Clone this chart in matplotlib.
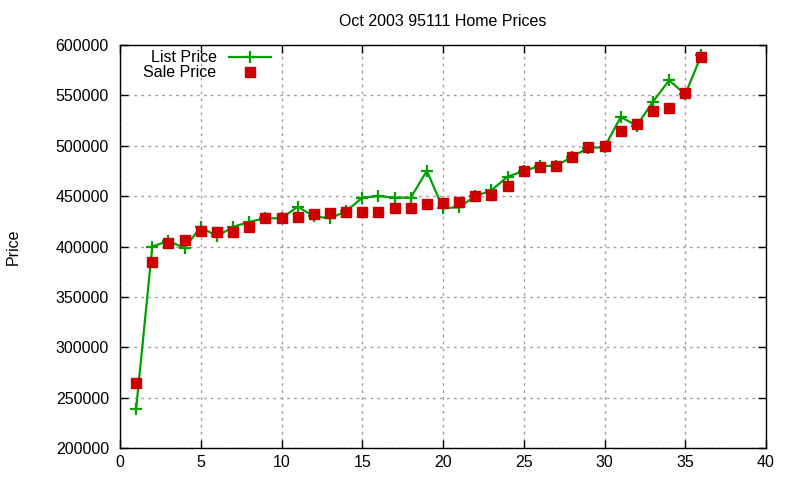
import matplotlib
matplotlib.use("Agg")
import matplotlib.pyplot as plt

plt.rcParams['font.family'] = ['Liberation Sans', 'DejaVu Sans']

months = list(range(1, 37))
list_price = [239000, 400000, 405500, 398500, 419500, 410000, 419500, 424500, 428000, 428000,
              439500, 430000, 428000, 435000, 448500, 450000, 448500, 448500, 475000, 438000,
              439000, 450000, 455800, 469300, 475000, 480000, 480000, 489000, 498000, 498500,
              528500, 520000, 543700, 565000, 551000, 590000]
sale_price = [264800, 385000, 403800, 406500, 415400, 414400, 414700, 419700, 428300, 428300,
              429300, 432000, 433000, 434500, 434500, 434500, 438500, 438500, 442500, 443500,
              444500, 450500, 450800, 460400, 475300, 479200, 480200, 489000, 499000, 500000,
              515000, 522000, 534800, 537800, 552700, 588400]
xticks = list(range(0, 41, 5))
yticks = list(range(200000, 600001, 50000))

fig = plt.figure(figsize=(8, 4.8), dpi=100)
ax = fig.add_axes([0.15, 0.0667, 0.8075, 0.8395])

ax.plot(months, list_price, color='#00a000', lw=1.6, marker='+', ms=9, mew=1.6, label='List Price')
ax.plot(months, sale_price, ls='none', color='#cc0000', marker='s', ms=7, label='Sale Price')

ax.set_xlim(0, 40)
ax.set_ylim(200000, 600000)
ax.set_xticks(xticks)
ax.set_yticks(yticks)
ax.set_yticklabels([str(v) for v in yticks])
ax.tick_params(direction='in', length=6, top=True, right=True, labelsize=11.5, width=1)
ax.tick_params(axis='y', pad=8)
ax.tick_params(axis='x', pad=5)
ax.grid(True, color='#a0a0a0', linestyle=(0, (2, 3)), linewidth=1)
ax.set_axisbelow(True)
for s in ax.spines.values():
    s.set_linewidth(1)

ax.set_title('Oct 2003 95111 Home Prices', fontsize=11.5, pad=14)
ax.set_ylabel('Price', fontsize=11.5)
ax.yaxis.set_label_coords(-0.154, 0.5)
ax.legend(loc='upper left', frameon=False, markerfirst=False, fontsize=11.5,
          bbox_to_anchor=(0.019, 1.015), handlelength=2.6, labelspacing=0.0, borderaxespad=0.3)

fig.savefig('out.png', dpi=100)
